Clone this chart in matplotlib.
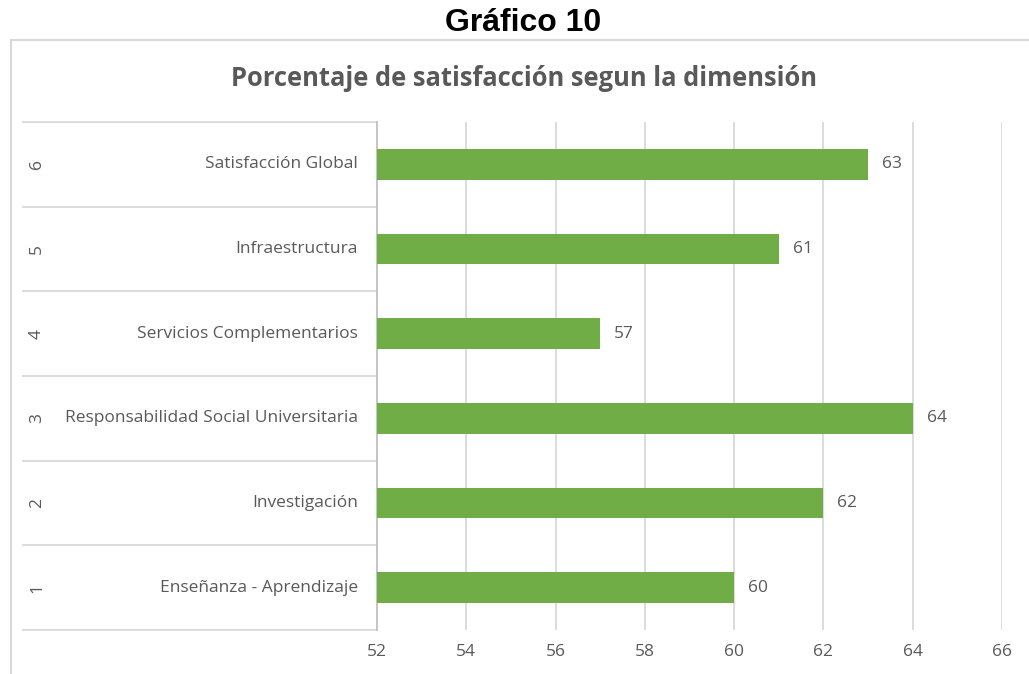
import matplotlib
matplotlib.use("Agg")
import matplotlib.pyplot as plt
from matplotlib.patches import Rectangle

codes = ["1", "2", "3", "4", "5", "6"]
dimensions = ["Enseñanza - Aprendizaje", "Investigación",
              "Responsabilidad Social Universitaria",
              "Servicios Complementarios", "Infraestructura",
              "Satisfacción Global"]
values = [60, 62, 64, 57, 61, 63]
xticks = [52, 54, 56, 58, 60, 62, 64, 66]

W, H = 1029, 674
fig = plt.figure(figsize=(W / 100, H / 100), dpi=100)
fig.patch.set_facecolor("white")

TXT = "#595959"
FONT = ["Open Sans", "DejaVu Sans"]
FS = 12.5

# chart border
fig.add_artist(Rectangle((11 / W, -0.1), 1.2, (H - 40) / H + 0.1,
                         transform=fig.transFigure, fill=False,
                         edgecolor="#D9D9D9", linewidth=1.5))

fig.text(523 / W, 1 - 23 / H, "Gráfico 10", ha="center", va="center",
         fontsize=23, fontweight="bold", family="Liberation Sans", color="black")
fig.text(524 / W, 1 - 79 / H, "Porcentaje de satisfacción segun la dimensión",
         ha="center", va="center", fontsize=18.4, fontweight="bold",
         family=FONT, color=TXT)

x0, x1, y0, y1 = 377, 1002, 122, 630
ax = fig.add_axes([x0 / W, 1 - y1 / H, (x1 - x0) / W, (y1 - y0) / H])
ax.set_xlim(xticks[0], xticks[-1])
ax.set_ylim(-0.5, len(values) - 0.5)

ypos = list(range(len(values)))
ax.barh(ypos, [v - xticks[0] for v in values], left=xticks[0], height=0.36,
        color="#70AD47", zorder=3)
for y, v in zip(ypos, values):
    ax.annotate(f"{v}", (v, y), xytext=(10, 0), textcoords="offset points",
                ha="left", va="center", fontsize=FS, color=TXT, family=FONT)

for t in xticks[1:]:
    ax.axvline(t, color="#D9D9D9", linewidth=1.3, zorder=1)

for s in ["top", "right", "bottom"]:
    ax.spines[s].set_visible(False)
ax.spines["left"].set_color("#BFBFBF")
ax.spines["left"].set_linewidth(1.3)

ax.set_xticks(xticks)
ax.set_xticklabels([str(t) for t in xticks], fontsize=FS, color=TXT, family=FONT)
ax.tick_params(axis="x", length=0, pad=10)
ax.set_yticks([])

lab_left = (22 - x0) / (x1 - x0)
ax.hlines([y - 0.5 for y in range(len(values) + 1)], lab_left, 0,
          transform=ax.get_yaxis_transform(), color="#D9D9D9",
          linewidth=1.3, clip_on=False)
for y, code, name in zip(ypos, codes, dimensions):
    ax.text(-19 / (x1 - x0), y, name, transform=ax.get_yaxis_transform(),
            ha="right", va="center", fontsize=FS, color=TXT, family=FONT)
    ax.text((37 - x0) / (x1 - x0), y, code, transform=ax.get_yaxis_transform(),
            ha="center", va="center", fontsize=FS, color=TXT, family=FONT,
            rotation=90)

fig.savefig("out.png", dpi=100, facecolor="white")
